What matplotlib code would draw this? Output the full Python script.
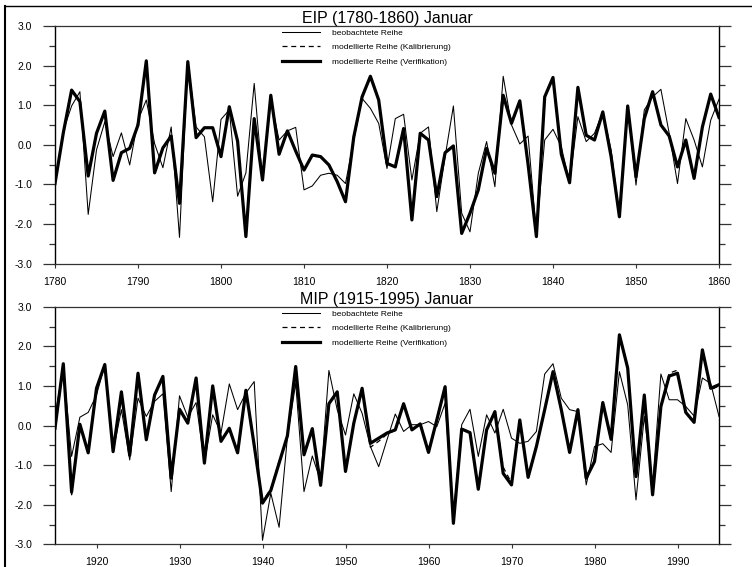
import matplotlib
matplotlib.use("Agg")
import matplotlib.pyplot as plt
from matplotlib.lines import Line2D
from matplotlib.ticker import MultipleLocator, FormatStrFormatter

plt.rcParams['font.family'] = ['Liberation Sans', 'DejaVu Sans']

# ---- EIP 1780-1860, January ----
eip_years = list(range(1780, 1861))
eip_obs = [
    -1.00, 0.35, 0.98, 1.34, -1.76, -0.13, 0.58, -0.30, 0.30, -0.51,
    0.62, 1.13, 0.03, -0.58, 0.45, -2.34, 2.10, 0.45, 0.20, -1.44,
    0.64, 0.88, -1.30, -0.71, 1.55, -0.89, 1.13, 0.12, 0.35, 0.44,
    -1.14, -1.04, -0.77, -0.72, -0.77, -0.98, 0.12, 1.17, 0.92, 0.54,
    -0.60, 0.66, 0.77, -0.89, 0.29, 0.45, -1.69, -0.30, 0.98, -1.73,
    -2.20, -0.72, 0.08, -1.06, 1.73, 0.50, 0.02, 0.22, -2.24, 0.12,
    0.39, -0.05, -0.96, 0.71, 0.08, 0.29, 0.83, -0.13, -1.78, 0.96,
    -1.02, 0.88, 1.21, 1.40, 0.29, -0.98, 0.66, 0.12, -0.56, 0.62,
    1.15,
]
eip_kal = [
    -0.98, 0.32, 1.36, 1.10, -0.78, 0.28, 0.84, -0.88, -0.19, -0.08,
    0.50, 2.10, -0.70, -0.08, 0.22, -1.46, 2.08, 0.19, 0.42, 0.42,
    -0.29, 0.95, 0.10, -2.28, 0.66, -0.88, 1.24, -0.23, 0.35, -0.15,
    -0.63, -0.26, -0.30, -0.51, -0.92, -1.42, 0.20, 1.20, 1.72, 1.12,
    -0.47, -0.55, 0.41, -1.88, 0.29, 0.13, -1.30, -0.20, -0.03, -2.22,
    -1.72, -1.13, -0.09, -0.71, 1.25, 0.55, 1.10, -0.50, -2.30, 1.20,
    1.68, -0.24, -0.95, 1.44, 0.24, 0.13, 0.83, -0.30, -1.80, 0.97,
    -0.80, 0.66, 1.33, 0.50, 0.22, -0.55, 0.12, -0.84, 0.45, 1.27,
    0.70,
]
eip_ver = [
    -0.98, 0.30, 1.38, 1.09, -0.79, 0.29, 0.85, -0.90, -0.20, -0.09,
    0.50, 2.12, -0.71, -0.08, 0.22, -1.48, 2.10, 0.18, 0.43, 0.43,
    -0.30, 0.96, 0.09, -2.32, 0.66, -0.89, 1.25, -0.24, 0.35, -0.16,
    -0.64, -0.26, -0.30, -0.51, -0.93, -1.44, 0.20, 1.21, 1.73, 1.13,
    -0.47, -0.56, 0.41, -1.90, 0.29, 0.12, -1.31, -0.20, -0.03, -2.24,
    -1.73, -1.14, -0.09, -0.72, 1.25, 0.54, 1.11, -0.50, -2.32, 1.21,
    1.70, -0.24, -0.96, 1.45, 0.24, 0.12, 0.83, -0.30, -1.82, 0.98,
    -0.81, 0.66, 1.34, 0.50, 0.22, -0.56, 0.12, -0.85, 0.45, 1.28,
    0.69,
]

# ---- MIP 1915-1995, January ----
mip_years = list(range(1915, 1996))
mip_obs = [
    0.23, 1.49, -0.78, 0.21, 0.33, 0.77, 1.53, -0.66, 0.40, -0.87,
    0.69, 0.23, 0.61, 0.80, -1.67, 0.75, 0.21, 0.58, -0.95, 0.27,
    -0.19, 1.05, 0.40, 0.82, 1.11, -2.90, -1.71, -2.57, -0.30, 1.07,
    -1.67, -0.77, -1.40, 1.39, 0.40, -0.24, 0.80, 0.31, -0.53, -1.04,
    -0.36, 0.29, -0.15, 0.02, 0.02, 0.10, -0.03, 0.56, -2.30, 0.02,
    0.41, -0.78, 0.27, -0.19, 0.41, -0.32, -0.45, -0.40, -0.15, 1.30,
    1.56, 0.69, 0.40, 0.35, -1.50, -0.53, -0.46, -0.68, 1.36, 0.52,
    -1.88, 0.23, -1.50, 1.30, 0.65, 0.65, 0.48, 0.24, 1.20, 1.06,
    0.23,
]
mip_kal = [
    -0.07, 1.55, -1.75, 0.05, -0.68, 0.93, 1.54, -0.65, 0.84, -0.74,
    1.30, -0.35, 0.76, 1.22, -1.33, 0.42, 0.07, 1.18, -0.94, 0.98,
    -0.39, -0.06, -0.68, 0.88, -0.50, -1.92, -1.60, -0.90, -0.30, 1.47,
    -0.73, -0.08, -1.50, 0.55, 0.84, -1.15, 0.07, 0.92, -0.55, -0.40,
    -0.22, -0.12, 0.54, -0.11, 0.04, -0.67, 0.14, 0.96, -2.45, -0.09,
    -0.18, -1.58, -0.11, 0.35, -1.05, -1.45, 0.14, -1.29, -0.52, 0.40,
    1.34, 0.40, -0.67, 0.40, -1.32, -0.90, 0.57, -0.34, 2.26, 1.43,
    -1.28, 0.76, -1.72, 0.48, 1.32, 1.40, 0.34, 0.09, 1.88, 0.90,
    1.00,
]
mip_ver = [
    -0.07, 1.56, -1.68, 0.03, -0.69, 0.94, 1.54, -0.66, 0.85, -0.75,
    1.32, -0.36, 0.77, 1.24, -1.33, 0.41, 0.06, 1.20, -0.95, 1.00,
    -0.40, -0.07, -0.69, 0.89, -0.50, -1.96, -1.64, -0.95, -0.26, 1.49,
    -0.74, -0.08, -1.51, 0.55, 0.85, -1.16, 0.06, 0.94, -0.45, -0.32,
    -0.19, -0.11, 0.55, -0.11, 0.04, -0.68, 0.14, 0.98, -2.47, -0.09,
    -0.18, -1.61, -0.11, 0.35, -1.21, -1.50, 0.14, -1.31, -0.53, 0.40,
    1.36, 0.40, -0.68, 0.40, -1.33, -0.91, 0.58, -0.35, 2.29, 1.45,
    -1.29, 0.77, -1.75, 0.48, 1.25, 1.32, 0.33, 0.08, 1.91, 0.94,
    1.03,
]

legend_labels = [
    'beobachtete Reihe',
    'modellierte Reihe (Kalibrierung)',
    'modellierte Reihe (Verifikation)',
]

W, H = 752, 567
fig = plt.figure(figsize=(W / 100, H / 100), dpi=100)


def add_axes_px(left, top, right, bottom):
    return fig.add_axes([left / W, 1 - bottom / H, (right - left) / W, (bottom - top) / H])


def draw_panel(ax, years, obs, kal, ver, title):
    ax.plot(years, obs, color='black', lw=0.75, label=legend_labels[0])
    ax.plot(years, kal, color='black', lw=0.9, ls=(0, (4, 3)), label=legend_labels[1])
    ax.plot(years, ver, color='black', lw=2.3, label=legend_labels[2])
    ax.set_xlim(years[0], years[-1])
    ax.set_ylim(-3, 3)
    ax.yaxis.set_major_locator(MultipleLocator(1))
    ax.yaxis.set_minor_locator(MultipleLocator(0.5))
    ax.yaxis.set_major_formatter(FormatStrFormatter('%.1f'))
    ax.xaxis.set_major_locator(MultipleLocator(10))
    ax.tick_params(axis='y', which='both', direction='out', left=True, right=True,
                   labelleft=True, labelright=False, colors='#333333', labelcolor='black')
    ax.tick_params(axis='y', which='major', length=8.5, width=0.9, labelsize=7.5, pad=8.0)
    ax.tick_params(axis='y', which='minor', length=4.3, width=0.9)
    ax.tick_params(axis='x', which='major', direction='out', length=3, width=0.8,
                   labelsize=7.5, pad=6.5, colors='#333333', labelcolor='black')
    for side in ('top', 'bottom'):
        ax.spines[side].set_color('#333333')
        ax.spines[side].set_linewidth(0.9)
    for side in ('left', 'right'):
        ax.spines[side].set_color('black')
        ax.spines[side].set_linewidth(1.0)
    ax.set_title(title, fontsize=11.5, pad=1.5)
    ax.legend(loc='upper left', bbox_to_anchor=((282 - 55) / 664, 1 - 3.0 / 237.5),
              frameon=False, fontsize=6, handlelength=4.6, handletextpad=1.4,
              labelspacing=0.8, borderpad=0, borderaxespad=0)


ax1 = add_axes_px(55, 26, 719, 263.5)
ax2 = add_axes_px(55, 306.7, 719, 544.3)

draw_panel(ax1, eip_years, eip_obs, eip_kal, eip_ver, 'EIP (1780-1860) Januar')
draw_panel(ax2, mip_years, mip_obs, mip_kal, mip_ver, 'MIP (1915-1995) Januar')

# outer frame lines along the left and top edges
fig.add_artist(Line2D([5 / W, 5 / W], [0, 1 - 6 / H], transform=fig.transFigure,
                      color='black', lw=1.5))
fig.add_artist(Line2D([5 / W, 1], [1 - 6 / H, 1 - 6 / H], transform=fig.transFigure,
                      color='black', lw=1.0))

fig.savefig('out.png', dpi=100)
